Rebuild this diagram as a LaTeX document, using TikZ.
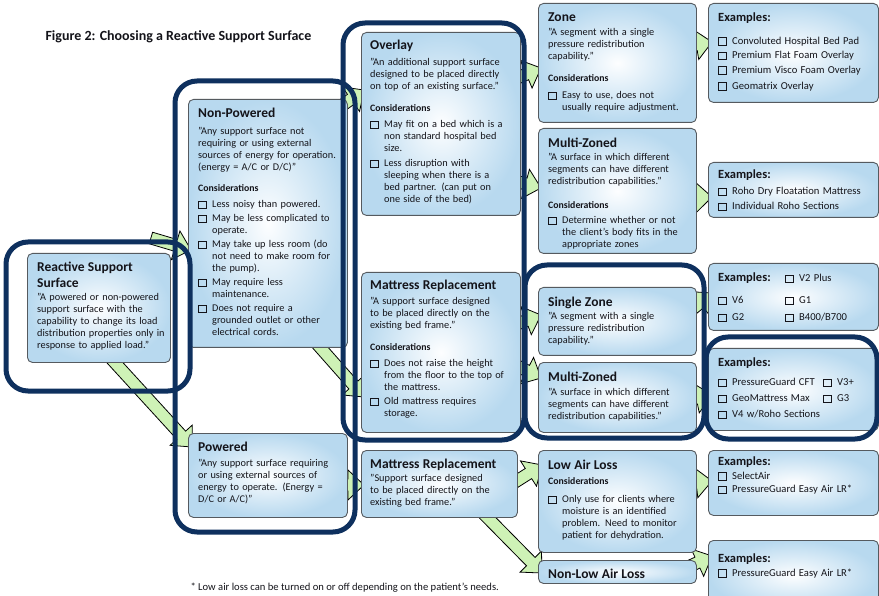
\documentclass[tikz,border=0pt]{standalone}
\usepackage{fontspec}
\setmainfont{Carlito}
\usepackage{xcolor}
\definecolor{colGroup}{RGB}{14,48,94}
\definecolor{colFlow}{RGB}{206,242,182}
\definecolor{colCardLine}{RGB}{85,90,95}
\definecolor{colCardIn}{RGB}{253,254,255}
\definecolor{colCardOut}{RGB}{184,217,239}
\definecolor{colText}{RGB}{20,20,26}
\usetikzlibrary{calc, backgrounds}

% text helpers for the cards
\newcommand{\hd}{\fontsize{13.5}{16}\selectfont\bfseries}
\newcommand{\qt}{\fontsize{10.3}{12}\selectfont}
\newcommand{\cs}{\fontsize{9.8}{12}\selectfont\bfseries}
\newcommand{\exh}{\fontsize{12.5}{14}\selectfont\bfseries}
\newcommand{\exi}{\fontsize{10.6}{14.5}\selectfont}
\newcommand{\chk}{\makebox[14pt][l]{\raisebox{-0.3pt}{\fboxsep=0pt\fboxrule=0.9pt\fbox{\rule{0pt}{6.5pt}\rule{6.5pt}{0pt}}}}}
\newcommand{\cind}{\hspace*{14pt}}

% block arrow, tail #1, tip #2
\newcommand{\flowarrow}[2]{%
  \coordinate (fa-t) at (#1);
  \coordinate (fa-h) at (#2);
  \coordinate (fa-n) at ($(fa-h)!16pt!(fa-t)$);
  \draw[flow] ($(fa-t)!6pt!90:(fa-h)$) -- ($(fa-n)!6pt!90:(fa-h)$)
    -- ($(fa-n)!15pt!90:(fa-h)$) -- (fa-h) -- ($(fa-n)!15pt!-90:(fa-h)$)
    -- ($(fa-n)!6pt!-90:(fa-h)$) -- ($(fa-t)!6pt!-90:(fa-h)$) -- cycle;
}

\begin{document}
\begin{tikzpicture}[x=1pt, y=-1pt,
  cardbox/.style={draw=colCardLine, line width=0.9pt, rounded corners=5pt,
    inner color=colCardIn, outer color=colCardOut, anchor=north west, inner sep=0pt},
  txt/.style={anchor=north west, inner sep=0pt, text width=#1, align=left, text=colText},
  groupline/.style={draw=colGroup, line width=5pt, rounded corners=22pt},
  flow/.style={draw=black, line width=0.8pt, fill=colFlow, line join=miter}]
\useasboundingbox (0,0) rectangle (879,596);

\node[anchor=west, text=colText, font=\fontsize{14}{16}\selectfont\bfseries] (title) at (42,37)
  {Figure 2: Choosing a Reactive Support Surface};

% first column
\node[cardbox, minimum width=143, minimum height=109] (rss) at (27,253) {};
\node[txt=138pt] (rss-t) at ([shift={(10,9)}]rss.north west)
  {{\hd Reactive Support\\Surface\par}\vspace{1pt}
   {\qt "A powered or non-powered\\support surface with the\\capability to change its load\\distribution properties only in\\response to applied load."\par}};

% second column
\node[cardbox, minimum width=159, minimum height=248] (np) at (188,99) {};
\node[txt=152pt] (np-t) at ([shift={(10,9)}]np.north west)
  {{\hd Non-Powered\par}\vspace{5pt}
   {\qt "Any support surface not\\requiring or using external\\sources of energy for operation.\\(energy = A/C or D/C)"\par}
   \vspace{9pt}{\cs Considerations\par}\vspace{4pt}
   {\qt \chk Less noisy than powered.\\[2pt]
    \chk May be less complicated to\\ \cind operate.\\[2pt]
    \chk May take up less room (do\\ \cind not need to make room for\\ \cind the pump).\\[2pt]
    \chk May require less\\ \cind maintenance.\\[2pt]
    \chk Does not require a\\ \cind grounded outlet or other\\ \cind electrical cords.\par}};

\node[cardbox, minimum width=159, minimum height=84] (pw) at (188,433) {};
\node[txt=152pt] (pw-t) at ([shift={(10,9)}]pw.north west)
  {{\hd Powered\par}\vspace{3pt}
   {\qt "Any support surface requiring\\or using external sources of\\energy to operate. (Energy =\\D/C or A/C)"\par}};

% third column
\node[cardbox, minimum width=159, minimum height=183] (ov) at (361,32) {};
\node[txt=152pt] (ov-t) at ([shift={(9,8)}]ov.north west)
  {{\hd Overlay\par}\vspace{4pt}
   {\qt "An additional support surface\\designed to be placed directly\\on top of an existing surface."\par}
   \vspace{10pt}{\cs Considerations\par}\vspace{4pt}
   {\qt \chk May fit on a bed which is a\\ \cind non standard hospital bed\\ \cind size.\\[3pt]
    \chk Less disruption with\\ \cind sleeping when there is a\\ \cind bed partner. (can put on\\ \cind one side of the bed)\par}};

\node[cardbox, minimum width=159, minimum height=160] (mr1) at (361,272) {};
\node[txt=152pt] (mr1-t) at ([shift={(9,8)}]mr1.north west)
  {{\hd Mattress Replacement\par}\vspace{3pt}
   {\qt "A support surface designed\\to be placed directly on the\\existing bed frame."\par}
   \vspace{10pt}{\cs Considerations\par}\vspace{4pt}
   {\qt \chk Does not raise the height\\ \cind from the floor to the top of\\ \cind the mattress.\\[2pt]
    \chk Old mattress requires\\ \cind storage.\par}};

\node[cardbox, minimum width=156, minimum height=67] (mr2) at (361,450) {};
\node[txt=150pt] (mr2-t) at ([shift={(9,9)}]mr2.north west)
  {{\hd Mattress Replacement\par}\vspace{1pt}
   {\qt "Support surface designed\\to be placed directly on the\\existing bed frame."\par}};

% fourth column
\node[cardbox, minimum width=158, minimum height=119] (zn) at (538,3) {};
\node[txt=150pt] (zn-t) at ([shift={(10,10)}]zn.north west)
  {{\hd Zone\par}\vspace{2pt}
   {\qt "A segment with a single\\pressure redistribution\\capability."\par}
   \vspace{10pt}{\cs Considerations\par}\vspace{5pt}
   {\qt \chk Easy to use, does not\\ \cind usually require adjustment.\par}};

\node[cardbox, minimum width=158, minimum height=125] (mz1) at (538,128) {};
\node[txt=150pt] (mz1-t) at ([shift={(10,10)}]mz1.north west)
  {{\hd Multi-Zoned\par}\vspace{1pt}
   {\qt "A surface in which different\\segments can have different\\redistribution capabilities."\par}
   \vspace{12pt}{\cs Considerations\par}\vspace{3pt}
   {\qt \chk Determine whether or not\\ \cind the client's body fits in the\\ \cind appropriate zones\par}};

\node[cardbox, minimum width=158, minimum height=68] (sz) at (538,287) {};
\node[txt=150pt] (sz-t) at ([shift={(10,10)}]sz.north west)
  {{\hd Single Zone\par}\vspace{1pt}
   {\qt "A segment with a single\\pressure redistribution\\capability."\par}};

\node[cardbox, minimum width=158, minimum height=70] (mz2) at (538,362) {};
\node[txt=150pt] (mz2-t) at ([shift={(10,10)}]mz2.north west)
  {{\hd Multi-Zoned\par}\vspace{2pt}
   {\qt "A surface in which different\\segments can have different\\redistribution capabilities."\par}};

\node[cardbox, minimum width=158, minimum height=102] (lal) at (538,450) {};
\node[txt=150pt] (lal-t) at ([shift={(10,10)}]lal.north west)
  {{\hd Low Air Loss\par}\vspace{3pt}
   {\cs Considerations\par}\vspace{6pt}
   {\qt \chk Only use for clients where\\ \cind moisture is an identified\\ \cind problem. Need to monitor\\ \cind patient for dehydration.\par}};

\node[cardbox, minimum width=158, minimum height=23] (nlal) at (538,560) {};
\node[txt=150pt] (nlal-t) at ([shift={(10,9)}]nlal.north west)
  {{\hd Non-Low Air Loss\par}};

% examples column
\node[cardbox, minimum width=170, minimum height=99] (ex1) at (708,3) {};
\node[txt=165pt] (ex1-t) at ([shift={(10,10)}]ex1.north west)
  {{\exh Examples:\par}\vspace{8pt}
   {\exi \chk Convoluted Hospital Bed Pad\\ \chk Premium Flat Foam Overlay\\
    \chk Premium Visco Foam Overlay\\[1.5pt] \chk Geomatrix Overlay\par}};

\node[cardbox, minimum width=170, minimum height=55] (ex2) at (708,162) {};
\node[txt=165pt] (ex2-t) at ([shift={(10,8)}]ex2.north west)
  {{\exh Examples:\par}\vspace{1pt}
   {\fontsize{10.6}{15}\selectfont \chk Roho Dry Floatation Mattress\\ \chk Individual Roho Sections\par}};

\node[cardbox, minimum width=170, minimum height=67] (ex3) at (708,263) {};
\node[txt=165pt] (ex3-t) at ([shift={(10,10)}]ex3.north west)
  {{\exh\makebox[67pt][l]{Examples:}}{\exi\chk V2 Plus\par}\vspace{5pt}
   {\fontsize{10.6}{17}\selectfont \makebox[67pt][l]{\chk V6}\chk G1\\
    \makebox[67pt][l]{\chk G2}\chk B400/B700\par}};

\node[cardbox, minimum width=170, minimum height=82] (ex4) at (708,348) {};
\node[txt=165pt] (ex4-t) at ([shift={(10,10)}]ex4.north west)
  {{\exh Examples:\par}\vspace{3pt}
   {\fontsize{10.6}{16}\selectfont \makebox[105pt][l]{\chk PressureGuard CFT}\chk V3+\\
    \makebox[105pt][l]{\chk GeoMattress Max}\chk G3\\ \chk V4 w/Roho Sections\par}};

\node[cardbox, minimum width=170, minimum height=65] (ex5) at (708,450) {};
\node[txt=165pt] (ex5-t) at ([shift={(10,7)}]ex5.north west)
  {{\exh Examples:\par}
   {\fontsize{10.6}{13.5}\selectfont \chk SelectAir\\ \chk PressureGuard Easy Air LR*\par}};

\node[cardbox, minimum width=170, minimum height=70] (ex6) at (708,540) {};
\node[txt=165pt] (ex6-t) at ([shift={(10,14)}]ex6.north west)
  {{\exh Examples:\par}
   {\fontsize{10.6}{13.5}\selectfont \chk PressureGuard Easy Air LR*\par}};

\node[anchor=west, text=colText, font=\fontsize{10.6}{12}\selectfont] (note) at (187,588)
  {* Low air loss can be turned on or off depending on the patient’s needs.};

% green flow arrows under the cards
\begin{scope}[on background layer]
  \fill[white] (0,0) rectangle (879,596);
  \flowarrow{[shift={(-20,-15)}]rss.north east}{[shift={(3,-98)}]np.south west}
  \flowarrow{[shift={(68,-22)}]rss.south west}{[shift={(4,14)}]pw.north west}
  \flowarrow{[shift={(-25,20)}]np.north east}{[shift={(3,58)}]ov.north west}
  \flowarrow{[shift={(-45,-20)}]np.south east}{[shift={(3,125)}]mr1.north west}
  \flowarrow{[shift={(-20,52)}]pw.north east}{[shift={(3,35)}]mr2.north west}
  \flowarrow{[shift={(-25,55)}]ov.north east}{[shift={(3,65)}]zn.north west}
  \flowarrow{[shift={(-25,-40)}]ov.south east}{[shift={(3,60)}]mz1.north west}
  \flowarrow{[shift={(-25,60)}]mr1.north east}{[shift={(3,28)}]sz.north west}
  \flowarrow{[shift={(-25,83)}]mr1.north east}{[shift={(3,16)}]mz2.north west}
  \flowarrow{[shift={(-20,-25)}]mr2.south east}{[shift={(4,15)}]lal.north west}
  \flowarrow{[shift={(-40,-10)}]mr2.south east}{[shift={(4,13)}]nlal.north west}
  \flowarrow{[shift={(-20,45)}]zn.north east}{[shift={(4,39)}]ex1.north west}
  \flowarrow{[shift={(-20,70)}]mz1.north east}{[shift={(4,35)}]ex2.north west}
  \flowarrow{[shift={(-20,35)}]sz.north east}{[shift={(4,30)}]ex3.north west}
  \flowarrow{[shift={(-20,40)}]mz2.north east}{[shift={(4,47)}]ex4.north west}
  \flowarrow{[shift={(-20,35)}]lal.north east}{[shift={(4,31)}]ex5.north west}
  \flowarrow{[shift={(-20,12)}]nlal.north east}{[shift={(4,16)}]ex6.north west}
\end{scope}

% navy highlight frames
\draw[groupline] (6,242) rectangle (190,391);
\draw[groupline] (175,81) rectangle (355,532);
\draw[groupline] (343,23) rectangle (524,440);
\draw[groupline] (525,265) rectangle (704,438);
\draw[groupline] (706,337) rectangle (877,439);
\end{tikzpicture}
\end{document}
